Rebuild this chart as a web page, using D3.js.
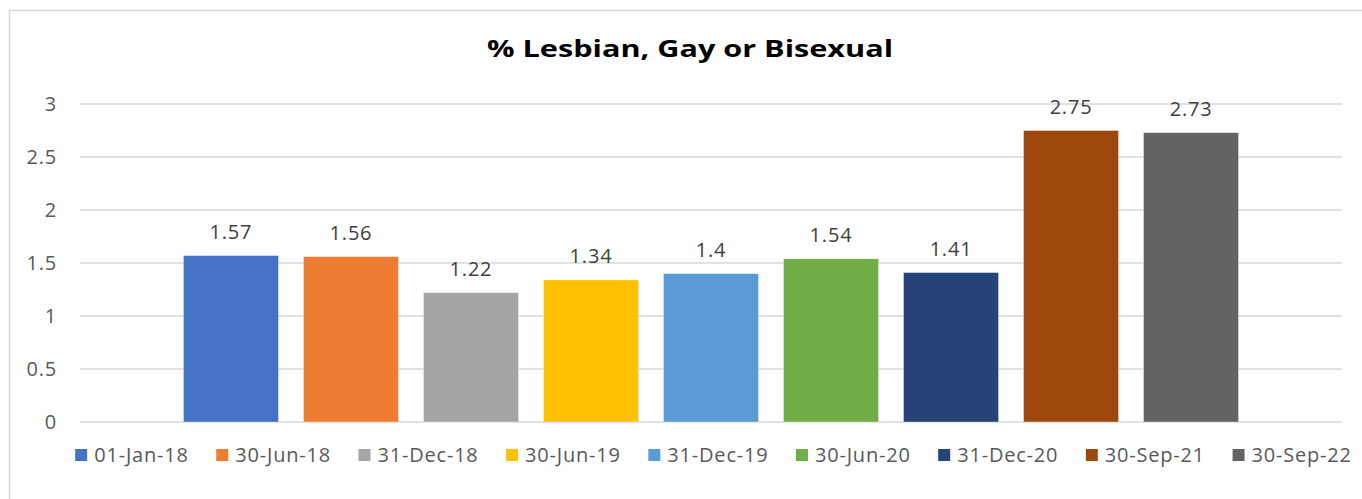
<!DOCTYPE html>
<html>
<head>
<meta charset="utf-8">
<script src="https://cdn.jsdelivr.net/npm/d3@7"></script>
<style>
  body { margin: 0; background: #fff; }
  svg { display: block; font-family: "Open Sans", sans-serif; }
</style>
</head>
<body>
<div id="chart"></div>
<script>
"use strict";

var series = ["01-Jan-18", "30-Jun-18", "31-Dec-18", "30-Jun-19", "31-Dec-19",
              "30-Jun-20", "31-Dec-20", "30-Sep-21", "30-Sep-22"];
var values = [1.57, 1.56, 1.22, 1.34, 1.4, 1.54, 1.41, 2.75, 2.73];
var colors = ["#4472C4", "#ED7D31", "#A5A5A5", "#FFC000", "#5B9BD5",
              "#70AD47", "#264478", "#9E480E", "#636363"];
var yTicks = [0, 0.5, 1, 1.5, 2, 2.5, 3];

var width = 1362, height = 499;
var plotLeft = 80, plotRight = 1342, plotTop = 104, plotBottom = 422;
var fontSize = "20px", spacing = "0.8px";

var svg = d3.select("#chart")
    .append("svg")
    .attr("width", width)
    .attr("height", height);

// chart frame
svg.append("rect")
    .attr("x", 9.5).attr("y", 10.5)
    .attr("width", width).attr("height", height)
    .attr("fill", "#fff")
    .attr("stroke", "#d9d9d9")
    .attr("stroke-width", 1.5);

var x = d3.scaleBand()
    .domain(series)
    .range([plotLeft, plotRight])
    .paddingInner(0.208)
    .paddingOuter(0.862);

var y = d3.scaleLinear()
    .domain([0, 3])
    .range([plotBottom, plotTop]);

// gridlines
svg.selectAll("line.grid")
    .data(yTicks)
    .enter()
    .append("line")
    .attr("class", "grid")
    .attr("x1", plotLeft).attr("x2", plotRight)
    .attr("y1", function (d) { return y(d); })
    .attr("y2", function (d) { return y(d); })
    .attr("stroke", "#d9d9d9")
    .attr("stroke-width", 1.5);

// y axis labels
var yAxis = d3.axisLeft(y).tickValues(yTicks).tickSize(0).tickPadding(0)
    .tickFormat(function (d) { return d; });
svg.append("g")
    .attr("transform", "translate(57,0)")
    .call(yAxis)
    .call(function (g) {
        g.select(".domain").remove();
        g.selectAll("text")
            .attr("font-family", "Open Sans, sans-serif")
            .attr("font-size", fontSize)
            .attr("letter-spacing", spacing)
            .attr("fill", "#595959");
    });

// bars
svg.selectAll("rect.bar")
    .data(values)
    .enter()
    .append("rect")
    .attr("class", "bar")
    .attr("x", function (d, i) { return x(series[i]); })
    .attr("y", function (d) { return y(d); })
    .attr("width", x.bandwidth())
    .attr("height", function (d) { return plotBottom - y(d); })
    .attr("fill", function (d, i) { return colors[i]; })
    .attr("stroke", "#fff")
    .attr("stroke-opacity", 0.5)
    .attr("stroke-width", 0.75);

// data labels
svg.selectAll("text.value")
    .data(values)
    .enter()
    .append("text")
    .attr("class", "value")
    .text(function (d) { return d; })
    .attr("x", function (d, i) { return x(series[i]) + x.bandwidth() / 2; })
    .attr("y", function (d) { return y(d) - 16.5; })
    .attr("text-anchor", "middle")
    .attr("font-size", fontSize)
    .attr("letter-spacing", spacing)
    .attr("fill", "#404040");

// title
svg.append("text")
    .text("% Lesbian, Gay or Bisexual")
    .attr("x", 487)
    .attr("y", 57)
    .attr("textLength", 406)
    .attr("lengthAdjust", "spacingAndGlyphs")
    .attr("font-size", "22.5px")
    .attr("font-weight", "bold")
    .attr("fill", "#000");

// legend
var legend = svg.append("g");
var lx = 0, gap = 27.5;
series.forEach(function (s, i) {
    var item = legend.append("g").attr("transform", "translate(" + lx + ",0)");
    item.append("rect")
        .attr("x", 0).attr("y", -6)
        .attr("width", 12).attr("height", 12)
        .attr("fill", colors[i]);
    var t = item.append("text")
        .text(s)
        .attr("x", 19)
        .attr("y", 7)
        .attr("font-size", fontSize)
        .attr("letter-spacing", spacing)
        .attr("fill", "#595959");
    lx += 19 + t.node().getComputedTextLength() + gap;
});
var legendWidth = lx - gap;
legend.attr("transform", "translate(" + (713.5 - legendWidth / 2) + ",455)");
</script>
</body>
</html>
